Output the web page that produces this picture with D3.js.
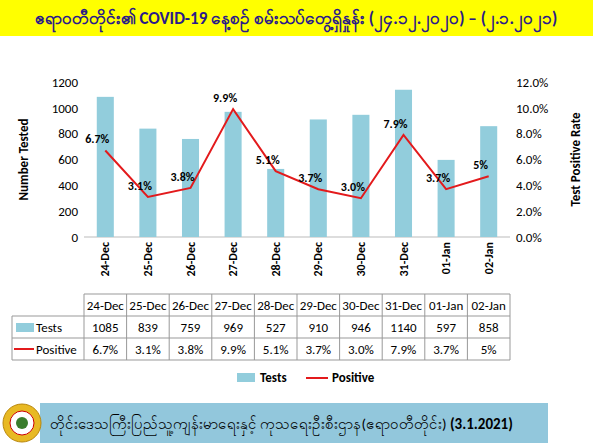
<!DOCTYPE html>
<html><head><meta charset="utf-8">
<script src="https://cdn.jsdelivr.net/npm/d3@7"></script>
<style>body{margin:0;background:#fff}svg{font-family:Calibri,"Liberation Sans",Arial,sans-serif}</style>
</head><body><svg width="593" height="448"></svg>
<script>
var dates = ["24-Dec","25-Dec","26-Dec","27-Dec","28-Dec","29-Dec","30-Dec","31-Dec","01-Jan","02-Jan"];
var tests = [1085, 839, 759, 969, 527, 910, 946, 1140, 597, 858];
var positive = [6.7, 3.1, 3.8, 9.9, 5.1, 3.7, 3.0, 7.9, 3.7, 4.7];
var posLabels = ["6.7%","3.1%","3.8%","9.9%","5.1%","3.7%","3.0%","7.9%","3.7%","5%"];
var tableTests = ["1085","839","759","969","527","910","946","1140","597","858"];
var yTicks = [0,200,400,600,800,1000,1200];
var y2Ticks = [0,2,4,6,8,10,12];

var svg = d3.select("svg");
var barColor = "#92cddc", lineColor = "#e31a1c";

// title band
svg.append("rect").attr("x",0).attr("y",0).attr("width",593).attr("height",36).attr("fill","#ffff00");
svg.append("text").attr("x",296).attr("y",24).attr("text-anchor","middle")
  .attr("font-size",17).attr("fill","#2a1a8a").attr("font-weight","bold")
  .text("ဧရာဝတီတိုင်း၏ COVID-19 နေ့စဉ် စမ်းသပ်တွေ့ရှိနှုန်း (၂၄.၁၂.၂၀၂၀) – (၂.၁.၂၀၂၁)");

var pL = 84, pR = 510, pT = 82, pB = 237;
var x = d3.scaleBand().domain(dates).range([pL,pR]).paddingInner(0.6).paddingOuter(0.3);
var y = d3.scaleLinear().domain([0,1200]).range([pB,pT]);
var y2 = d3.scaleLinear().domain([0,12]).range([pB,pT]);

svg.append("g").attr("transform","translate("+pL+",0)")
  .call(d3.axisLeft(y).tickValues(yTicks).tickSize(0).tickPadding(6).tickFormat(d3.format("d")))
  .call(g=>g.select(".domain").remove())
  .selectAll("text").attr("font-size",13).attr("font-family","Calibri,'Liberation Sans',Arial");
svg.append("g").attr("transform","translate("+pR+",0)")
  .call(d3.axisRight(y2).tickValues(y2Ticks).tickSize(0).tickPadding(6).tickFormat(d=>d.toFixed(1)+"%"))
  .call(g=>g.select(".domain").remove())
  .selectAll("text").attr("font-size",13).attr("font-family","Calibri,'Liberation Sans',Arial");

svg.append("line").attr("x1",pL).attr("x2",pR).attr("y1",pB).attr("y2",pB).attr("stroke","#bbb");

svg.append("g").selectAll("rect").data(dates).join("rect")
  .attr("x",d=>x(d)).attr("width",x.bandwidth())
  .attr("y",(d,i)=>y(tests[i])).attr("height",(d,i)=>pB-y(tests[i]))
  .attr("fill",barColor);

var cx = d=>x(d)+x.bandwidth()/2;
svg.append("path").datum(dates)
  .attr("d",d3.line().x(cx).y((d,i)=>y2(positive[i])))
  .attr("fill","none").attr("stroke",lineColor).attr("stroke-width",2);

svg.append("g").selectAll("text").data(dates).join("text")
  .attr("x",d=>cx(d)-8).attr("y",(d,i)=>y2(positive[i])-7)
  .attr("text-anchor","middle").attr("font-size",12).attr("font-weight","bold")
  .text((d,i)=>posLabels[i]);

// x labels rotated
svg.append("g").selectAll("text").data(dates).join("text")
  .attr("transform",d=>"translate("+(cx(d)+4)+","+(pB+5)+") rotate(-90)")
  .attr("text-anchor","end").attr("font-size",12).attr("font-weight","bold").text(d=>d);

svg.append("text").attr("transform","translate(28,"+((pT+pB)/2)+") rotate(-90)")
  .attr("text-anchor","middle").attr("font-size",13).attr("font-weight","bold").text("Number Tested");
svg.append("text").attr("transform","translate(580,"+((pT+pB)/2)+") rotate(-90)")
  .attr("text-anchor","middle").attr("font-size",13).attr("font-weight","bold").text("Test Positive Rate");

// data table
var tL = 84, colW = (pR-tL)/dates.length, rowH = 22, tY = 294, labL = 12;
var tg = svg.append("g").attr("stroke","#999").attr("fill","none");
[0,1,2,3].forEach(r=>{
  tg.append("line").attr("x1",r==0?tL:labL).attr("x2",pR).attr("y1",tY+r*rowH).attr("y2",tY+r*rowH);
});
d3.range(dates.length+1).forEach(c=>{
  tg.append("line").attr("x1",tL+c*colW).attr("x2",tL+c*colW).attr("y1",tY).attr("y2",tY+3*rowH);
});
tg.append("line").attr("x1",labL).attr("x2",labL).attr("y1",tY+rowH).attr("y2",tY+3*rowH);

var rows = [dates, tableTests, posLabels];
rows.forEach((row,r)=>{
  svg.append("g").selectAll("text").data(row).join("text")
    .attr("x",(d,i)=>tL+(i+0.5)*colW).attr("y",tY+r*rowH+16)
    .attr("text-anchor","middle").attr("font-size",13).text(d=>d);
});
svg.append("rect").attr("x",16).attr("y",tY+rowH+7).attr("width",18).attr("height",9).attr("fill",barColor);
svg.append("text").attr("x",36).attr("y",tY+rowH+16).attr("font-size",13).text("Tests");
svg.append("line").attr("x1",14).attr("x2",34).attr("y1",tY+2*rowH+11).attr("y2",tY+2*rowH+11).attr("stroke",lineColor).attr("stroke-width",2);
svg.append("text").attr("x",36).attr("y",tY+2*rowH+16).attr("font-size",13).text("Positive");

// legend
svg.append("rect").attr("x",237).attr("y",373).attr("width",18).attr("height",9).attr("fill",barColor);
svg.append("text").attr("x",260).attr("y",382).attr("font-size",13).attr("font-weight","bold").text("Tests");
svg.append("line").attr("x1",306).attr("x2",328).attr("y1",378).attr("y2",378).attr("stroke",lineColor).attr("stroke-width",2);
svg.append("text").attr("x",332).attr("y",382).attr("font-size",13).attr("font-weight","bold").text("Positive");

// footer
svg.append("rect").attr("x",40).attr("y",403).attr("width",508).attr("height",40).attr("fill","#92c7dc");
var logo = svg.append("g").attr("transform","translate(22,423)");
logo.append("circle").attr("r",19).attr("fill","#e8b923").attr("stroke","#b8860b");
logo.append("circle").attr("r",12).attr("fill","#ffffff").attr("stroke","#c00");
logo.append("circle").attr("r",6).attr("fill","#3a7d2c");
svg.append("text").attr("x",50).attr("y",429).attr("font-size",15)
  .text("တိုင်းဒေသကြီးပြည်သူ့ကျန်းမာရေးနှင့် ကုသရေးဦးစီးဌာန(ဧရာဝတီတိုင်း) ")
  .append("tspan").attr("font-weight","bold").text("(3.1.2021)");
</script></body></html>
